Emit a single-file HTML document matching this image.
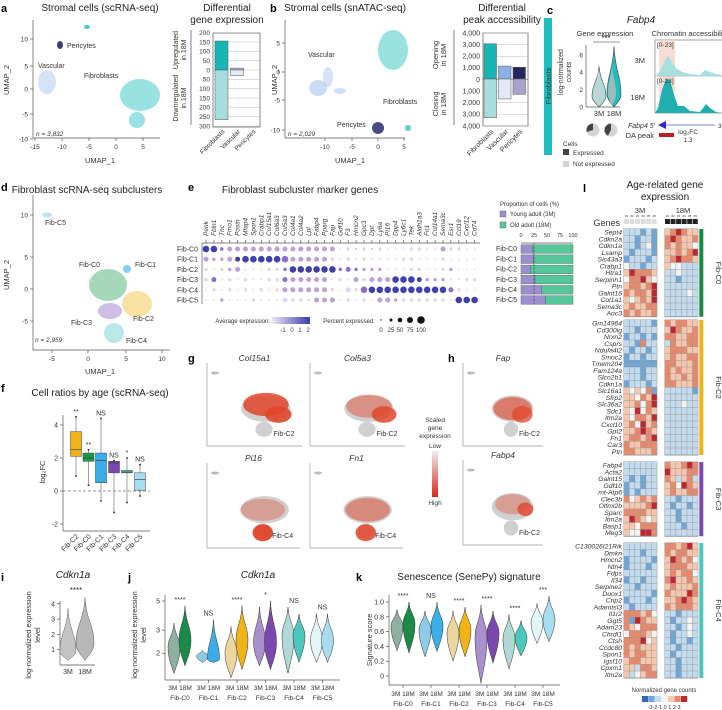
<!DOCTYPE html>
<html><head><meta charset="utf-8"><style>
html,body{margin:0;padding:0;background:#fff}
svg{display:block;font-family:"Liberation Sans",sans-serif}
.t{font-size:10px;fill:#222}
.tk{font-size:6.5px;fill:#333}
.ax{font-size:7.5px;fill:#333}
.pl{font-size:11px;font-weight:bold;fill:#000}
.it{font-style:italic}
</style></head><body>
<svg id="fig" width="722" height="710" viewBox="0 0 722 710">
<text class="pl" x="1" y="12">a</text>
<text class="pl" x="270" y="12">b</text>
<text class="pl" x="547" y="14">c</text>
<text class="pl" x="1" y="191">d</text>
<text class="pl" x="188" y="191">e</text>
<text class="pl" x="1" y="392">f</text>
<text class="pl" x="188" y="362">g</text>
<text class="pl" x="448" y="362">h</text>
<text class="pl" x="1" y="581">i</text>
<text class="pl" x="128" y="581">j</text>
<text class="pl" x="356" y="581">k</text>
<text class="pl" x="583" y="192">l</text>

<text class="t" x="100" y="11" text-anchor="middle">Stromal cells (scRNA-seq)</text>
<text class="t" x="227" y="11" text-anchor="middle">Differential</text>
<text class="t" x="227" y="23" text-anchor="middle">gene expression</text>
<text class="t" x="345" y="11" text-anchor="middle">Stromal cells (snATAC-seq)</text>
<text class="t" x="502" y="11" text-anchor="middle">Differential</text>
<text class="t" x="502" y="23" text-anchor="middle">peak accessibility</text>
<text class="t it" x="641" y="23" text-anchor="middle">Fabp4</text>
<text class="tk" x="605" y="36" text-anchor="middle" style="font-size:7.5px">Gene expression</text>
<text class="tk" x="690" y="36" text-anchor="middle" style="font-size:7.5px">Chromatin accessibility</text>
<text class="t" x="87" y="193" text-anchor="middle">Fibroblast scRNA-seq subclusters</text>
<text class="t" x="300" y="193" text-anchor="middle">Fibroblast subcluster marker genes</text>
<text class="t" x="100" y="396" text-anchor="middle">Cell ratios by age (scRNA-seq)</text>
<text class="t it" x="73" y="578" text-anchor="middle">Cdkn1a</text>
<text class="t it" x="258" y="578" text-anchor="middle">Cdkn1a</text>
<text class="t" x="469" y="580" text-anchor="middle">Senescence (SenePy) signature</text>
<text class="t" x="665" y="188" text-anchor="middle">Age-related gene</text>
<text class="t" x="665" y="200" text-anchor="middle">expression</text>

<g id="g"></g>
</svg>
<script>
const NS='http://www.w3.org/2000/svg';
const G=document.getElementById('g');
function mk(tag,at,p){const e=document.createElementNS(NS,tag);for(const k in at)e.setAttribute(k,at[k]);(p||G).appendChild(e);return e;}
function tx(x,y,s,cls,extra){const e=mk('text',Object.assign({x:x,y:y,class:cls||'tk'},extra||{}));e.textContent=s;return e;}
function ln(x1,y1,x2,y2,c,w,d){return mk('line',{x1,y1,x2,y2,stroke:c||'#555','stroke-width':w||0.7,'stroke-dasharray':d||''});}

/* ---------- data ---------- */
const barACats=['Fibroblasts','Vascular','Pericytes'];
const barAUp=[155,10,0];
const barADown=[265,30,0];
const barATicks=[200,150,100,50,0,50,100,150,200,250,300];
const barBCats=['Fibroblasts','Vascular','Pericytes'];
const barBUp=[3000,1100,1000];
const barBDown=[3300,1700,1300];
const barBTicks=['4,000','3,000','2,000','1,000','0','1,000','2,000','3,000','4,000'];
const boxCats=['Fib-C2','Fib-C0','Fib-C1','Fib-C3','Fib-C4','Fib-C5'];
const boxLo=[0.9,0.35,-0.6,-1.3,-0.7,-0.3];
const boxQ1=[2.1,1.8,0.5,1.1,1.1,0.05];
const boxMed=[2.5,2.0,1.85,1.7,1.15,0.7];
const boxQ3=[3.6,2.3,2.3,1.8,1.25,1.1];
const boxHi=[4.5,2.5,4.4,1.85,2.0,1.6];
const boxSig=['**','**','NS','NS','*','NS'];
const fibCats=['Fib-C0','Fib-C1','Fib-C2','Fib-C3','Fib-C4','Fib-C5'];
const jMin3=[1.4,1.7,1.3,1.6,1.4,1.7], jPeak3=[2.2,1.9,2.0,2.4,2.7,2.5], jMax3=[3.4,2.1,3.2,4.5,4.5,4.0];
const jMin18=[1.6,1.7,1.5,1.5,1.7,1.7], jPeak18=[2.5,1.8,2.5,2.4,2.7,2.5], jMax18=[4.6,3.6,4.6,5.0,4.0,4.0];
const jSig=['****','NS','****','*','NS','NS'];
const kMin3=[0.34,0.26,0.2,-0.1,0.09,0.44], kPeak3=[0.67,0.62,0.57,0.52,0.5,0.72], kMax3=[0.9,0.88,0.88,0.96,0.83,0.98];
const kMin18=[0.31,0.33,0.26,0.17,0.27,0.46], kPeak18=[0.70,0.67,0.62,0.58,0.52,0.76], kMax18=[1.0,1.0,0.93,0.88,0.75,1.08];
const kSig=['****','NS','****','****','****','***'];
const propYoung=[23,24,18,27,40,47];
const dotGenes=['Penk','Fbln1','Tnc','Fmo1','Postn','Mfap4','Spon1','Crabp1','Col15a1','Col6a3','Col5a3','Col4a1','Col4a2','Lpl','Fabp4','Pparg','Fap','Gdf10','F3','Hmcn2','Gpc3','Dpt','Ly6a','Pi16','Dpp4','Ly6c1','Tek','Aldh1a3','Fn1','Col14a1','Sema3c','Esr1','Ccl19','Cxcl12','Cd74'];
const dotSize=['44233333333333333121212111221132211','32233444444333332121211112211121111','21223111222444444232222111221122111','23121211223333331213233344432221122','12121212123333332132444444444443211','11211121113221333121213322222221444'];
const dotCol =['44322222222222222112121111111121111','22224444443222221111111111111111111','11122111113444444333222111111112111','13111111113222221112122244442221111','11111111112222221111344444444443111','11211111111112222111112221111111444'];
const hmGroups=['Fib-C0','Fib-C2','Fib-C3','Fib-C4'];
const hmGroupColors=['#178a44','#f0b419','#7b48b0','#4cc7bd'];
const hmGenes=[
['Sept4','Cdkn2a','Cdkn1a','Lsamp','Slc43a3','Crabp1','Htra1','Serpinh1','Ptn','Galnt16','Col1a1','Sema3c','Aoc3'],
['Gm14964','Cd300lg','Nrxn2','Csprs','Ndufa4l2','Smoc2','Tmem204','Fam124a','Slco2b1','Cdkn1a','Slc16a1','Sfrp2','Slc36a2','Sdc1','Itm2a','Cxcl10','Gpt2','Fn1','Car3','Ptn'],
['Fabp4','Acta2','Galnt15','Gdf10','mt-Atp6','Clec3b','Olfml2b','Sparc','Itm2a','Basp1','Meg3'],
['C130026I21Rik','Dmkn','Hmcn2','Ntn4','Fdps','Il34','Serpine2','Duox1','Crip2','Adamtsl3','Il1r2','Ggt5','Adam23','Chrdl1','Ctsh','Ccdc80','Spon1','Igsf10','Cpxm1','Itm2a']];
const hmVals=[
['cccbcbefgfee','ccbccbfgfeef','ccbcdbfefeed','cbcccbeefefg','bcccbcefgffe','dccbcceddccc','egfffeccdccc','dffgedccbccc','effefgcccccc','feffegccccdc','edefegcccccc','efeeffcccccc','fefeefcccccc'],
['cccccbfeffee','ccbcccegfeef','bccbcbffeeff','ccbfcccfeeff','cbccbcefffee','bccbccefeeff','bbbbbbffeeef','cccbccfefeef','cccbccfeefef','bcccbcffeeef','ededfbcccccb','eedfegcccccc','eefdfgcccdcc','edgdfecccccc','edffegcccccc','efdgefcccccc','eefgfecccccc','effefgcccccc','feefffcccccc','ffeeefcccccc'],
['ccccccfeefgf','ccccccgeeeff','cbcbccfecefc','bccbccefdgfe','bcbcccefeeff','fdefefccbccc','eeeefgcbccbc','ffffeeccbccc','egfedeccbccc','eedfffcccbcc','eddggfcccccc'],
['ccccccffefge','cccbccfeffee','bccccbegfefd','bcccbcefffee','ccccccefeffd','bccbccfgeefe','ccbcccefeeef','cccccbfeeegf','bcccbceefgfe','cbccccfefffe','fffefdccbccc','fbgfeecbccdc','fedfffccbcdc','dfffedcbccdc','fffgdecbccbc','fefeeeccbccc','feffeecbcccc','effeeeccbccc','eecffeccbccc','ecdeffccbccc']];

function cloud(cx,cy,rx,ry,col,op,name){
  const e=mk('ellipse',{cx,cy,rx,ry,fill:col,'fill-opacity':op});
  
  
  return e;
}
function violinPath(cx,yTop,yPeak,yBot,w){
  const a=yPeak-yTop,b=yBot-yPeak;
  return `M${cx},${yTop} C${cx+w*0.15},${yTop+a*0.5} ${cx+w},${yPeak-a*0.4} ${cx+w},${yPeak} C${cx+w},${yPeak+b*0.45} ${cx+w*0.2},${yBot-b*0.2} ${cx},${yBot} C${cx-w*0.2},${yBot-b*0.2} ${cx-w},${yPeak+b*0.45} ${cx-w},${yPeak} C${cx-w},${yPeak-a*0.4} ${cx-w*0.15},${yTop+a*0.5} ${cx},${yTop}Z`;
}

/* panel a UMAP */
ln(33,20,33,138);ln(33,138,160,138);
[[-15,35],[-10,62],[-5,89],[0,116],[5,143]].forEach(t=>{ln(t[1],138,t[1],141);tx(t[1],149,t[0],'tk',{'text-anchor':'middle'});});
[[10,39],[5,66],[0,89],[-5,114],[-10,139]].forEach(t=>{ln(30,t[1],33,t[1]);tx(28,t[1]+2.5,t[0],'tk',{'text-anchor':'end'});});
tx(100,163,'UMAP_1','ax',{'text-anchor':'middle'});
tx(9,80,'UMAP_2','ax',{'text-anchor':'middle',transform:'rotate(-90 9 80)'});
cloud(140,95,20,16,'#1fbcbc',0.45,'fibroblast-cluster');
cloud(137,120,8,8,'#1fbcbc',0.45,'fibroblast-cluster-lower');
cloud(87,27,3,2,'#1fbcbc',0.8,'small-cluster');
cloud(60,45,3,4,'#2b2a6e',0.9,'pericyte-cluster');
cloud(47,82,9,12,'#8ab0e6',0.35,'vascular-cluster');
tx(67,48,'Pericytes','tk',{style:'font-size:7px'});
tx(38,68,'Vascular','tk',{style:'font-size:7px'});
tx(84,78,'Fibroblasts','tk',{style:'font-size:7px'});
tx(36,136,'n = 3,832','tk',{style:'font-style:italic'});

/* bar a */
(function(){
  const y0=70,k=0.187,x0=213,x1=260;
  const yU=v=>y0-v*k, yD=v=>y0+v*k;
  mk('rect',{x:x0,y:33,width:x1-x0,height:94,fill:'none',stroke:'#555','stroke-width':0.7});
  barATicks.forEach((t,i)=>{const y=i<=4?yU(t):yD(t);ln(x0,y,x1,y,'#bbb',0.5);tx(x0-3,y+2.3,t,'tk',{'text-anchor':'end'});});
  const cols=[['#19b5b5','#a9dcdc'],['#a8bfd8','#e6ecf4'],['#888','#ccc']];
  barACats.forEach((c,i)=>{
    const bx=x0+2+i*15.5;
    const u=mk('rect',{x:bx,y:yU(barAUp[i]),width:13,height:barAUp[i]*k,fill:cols[i][0],stroke:'#555','stroke-width':0.5});
    
    
    const d=mk('rect',{x:bx,y:y0,width:13,height:barADown[i]*k,fill:cols[i][1],stroke:'#555','stroke-width':0.5});
    
    
    tx(bx+10,132,c,'tk',{'text-anchor':'end',transform:`rotate(-45 ${bx+10} 132)`});
  });
  ln(191,30,191,125,'#3a4a6a',0.7);
  tx(178,50,'Upregulated','tk',{'text-anchor':'middle',transform:'rotate(-90 178 50)',style:'font-size:7px'});
  tx(186,50,'in 18M','tk',{'text-anchor':'middle',transform:'rotate(-90 186 50)',style:'font-size:7px'});
  tx(178,98,'Downregulated','tk',{'text-anchor':'middle',transform:'rotate(-90 178 98)',style:'font-size:7px'});
  tx(186,98,'in 18M','tk',{'text-anchor':'middle',transform:'rotate(-90 186 98)',style:'font-size:7px'});
})();

/* panel b UMAP */
ln(285,20,285,138);ln(285,138,405,138);
[[-10,325],[-5,352],[0,378],[5,404]].forEach(t=>{ln(t[1],138,t[1],141);tx(t[1],149,t[0],'tk',{'text-anchor':'middle'});});
[[5,43],[0,72],[-5,100],[-10,130]].forEach(t=>{ln(282,t[1],285,t[1]);tx(280,t[1]+2.5,t[0],'tk',{'text-anchor':'end'});});
tx(350,163,'UMAP_1','ax',{'text-anchor':'middle'});
tx(277,80,'UMAP_2','ax',{'text-anchor':'middle',transform:'rotate(-90 277 80)'});
cloud(393,50,15,20,'#1fbcbc',0.45,'atac-fibroblast-cluster');
cloud(408,128,3,3,'#1fbcbc',0.7,'atac-small-cluster');
cloud(318,88,9,8,'#8ab0e6',0.45,'atac-vascular-cluster');
cloud(328,77,5,10,'#8ab0e6',0.35,'atac-vascular-arm');
cloud(340,91,6,3,'#8ab0e6',0.4,'atac-vascular-tail');
cloud(378,128,6,6,'#2b2a6e',0.85,'atac-pericyte-cluster');
tx(308,57,'Vascular','tk',{style:'font-size:7px'});
tx(383,104,'Fibroblasts','tk',{style:'font-size:7px'});
tx(337,127,'Pericytes','tk',{style:'font-size:7px'});
tx(288,136,'n = 2,029','tk',{style:'font-style:italic'});

/* bar b */
(function(){
  const y0=79,k=0.01175,x0=483,x1=528;
  mk('rect',{x:x0,y:33,width:x1-x0,height:93,fill:'none',stroke:'#555','stroke-width':0.7});
  barBTicks.forEach((t,i)=>{const y=33+i*(93/8);ln(x0,y,x1,y,i==4?'#555':'#bbb',0.5);tx(x0-3,y+2.3,t,'tk',{'text-anchor':'end',style:'font-size:7px'});});
  const cols=[['#19b5b5','#a9dcdc'],['#8ab0e6','#e4e9f3'],['#24265f','#a8a4cc']];
  barBCats.forEach((c,i)=>{
    const bx=x0+1+i*14.5;
    const u=mk('rect',{x:bx,y:y0-barBUp[i]*k,width:12.5,height:barBUp[i]*k,fill:cols[i][0],stroke:'#555','stroke-width':0.5});
    
    
    const d=mk('rect',{x:bx,y:y0,width:12.5,height:barBDown[i]*k,fill:cols[i][1],stroke:'#555','stroke-width':0.5});
    
    
    tx(bx+10,132,c,'tk',{'text-anchor':'end',transform:`rotate(-45 ${bx+10} 132)`,style:'font-size:7px'});
  });
  ln(454,30,454,125,'#3a4a6a',0.7);
  tx(438,55,'Opening','ax',{'text-anchor':'middle',transform:'rotate(-90 438 55)'});
  tx(446,55,'in 18M','ax',{'text-anchor':'middle',transform:'rotate(-90 446 55)'});
  tx(438,104,'Closing','ax',{'text-anchor':'middle',transform:'rotate(-90 438 104)'});
  tx(446,104,'in 18M','ax',{'text-anchor':'middle',transform:'rotate(-90 446 104)'});
})();

/* panel c */
(function(){
  const b=mk('rect',{x:544,y:18,width:8,height:137,fill:'#20bdbd'});
  
  tx(551,86,'Fibroblasts','ax',{'text-anchor':'middle',transform:'rotate(-90 551 86)',fill:'#0f6f6f'});
  const y=v=>107-v*8.7;
  ln(586,45,586,107);ln(586,107,620,107);
  [0,2,4,6].forEach(v=>{tx(583,y(v)+2.5,v,'tk',{'text-anchor':'end'});});
  tx(563,72,'log-normalized','tk',{'text-anchor':'middle',transform:'rotate(-90 563 72)',style:'font-size:7px'});
  tx(571,72,'counts','tk',{'text-anchor':'middle',transform:'rotate(-90 571 72)',style:'font-size:7px'});
  const v1=mk('path',{d:violinPath(599,y(4.7),y(1.2),y(0),7),fill:'#a8dede',stroke:'#444','stroke-width':0.6});
  
  mk('path',{d:violinPath(598,y(4.5),y(1.3),y(0.1),4),fill:'#cfcfcf','fill-opacity':0.7});
  const v2=mk('path',{d:violinPath(614,y(7),y(1.4),y(0),7),fill:'#20bdbd',stroke:'#444','stroke-width':0.6});
  
  mk('path',{d:violinPath(612,y(5),y(1.6),y(0.1),4),fill:'#bbb','fill-opacity':0.8});
  ln(593,42,620,42,'#333',0.6);tx(606,41,'***','tk',{'text-anchor':'middle',style:'font-size:8px'});
  tx(599,116,'3M','ax',{'text-anchor':'middle'});tx(614,116,'18M','ax',{'text-anchor':'middle'});
  [[591,0.3],[609,0.42]].forEach((p,i)=>{
    mk('circle',{cx:p[0]+2,cy:130,r:6.5,fill:'#d4d4d4'});
    const a=2*Math.PI*p[1];
    const pie=mk('path',{d:`M${p[0]+2},130 L${p[0]+2},123.5 A6.5,6.5 0 0 0 ${p[0]+2-6.5*Math.sin(a)},${130-6.5*Math.cos(a)} Z`,fill:'#444'});
    
  });
  tx(563,146,'Cells','tk');
  mk('rect',{x:563,y:149,width:6,height:6,fill:'#444'});tx(573,155,'Expressed','tk');
  mk('rect',{x:563,y:161,width:6,height:6,fill:'#d4d4d4'});tx(573,166,'Not expressed','tk');
  mk('rect',{x:655,y:40,width:70,height:73,fill:'none',stroke:'#666','stroke-width':0.6});
  mk('rect',{x:659,y:40,width:16,height:73,fill:'#f2d5cc','fill-opacity':0.8});
  ln(655,76,722,76,'#888',0.5);
  mk('path',{d:'M655,76 L660,72 L664,62 L668,56 L672,62 L676,68 L682,72 L690,74 L700,75 L705,70 L710,72 L716,74 L722,75 L722,76Z',fill:'#a7dede'});
  mk('path',{d:'M655,113 L658,108 L662,90 L666,79 L670,80 L674,95 L678,106 L684,106 L690,111 L700,112 L706,104 L710,108 L716,112 L722,113Z',fill:'#21aeae'});
  tx(657,47,'[0-23]','tk');tx(657,83,'[0-23]','tk');
  tx(645,63,'3M','ax',{'text-anchor':'end'});tx(645,100,'18M','ax',{'text-anchor':'end'});
  tx(655,128,'Fabp4 5′','tk',{'text-anchor':'end',fill:'#4a4ad0',style:'font-style:italic;font-size:7px'});
  mk('path',{d:'M658,125 L666,121 L666,129Z',fill:'#2a2acc'});ln(666,125,715,125,'#5858d0',0.7);
  tx(718,128,'3′','tk',{fill:'#4a4ad0'});
  tx(654,138,'DA peak','ax',{'text-anchor':'end',fill:'#d03030'});
  mk('rect',{x:659,y:133,width:15,height:4,fill:'#c02020'});
  tx(688,134,'log₂FC','tk',{'text-anchor':'middle',fill:'#e04040'});tx(688,142,'1.3','tk',{'text-anchor':'middle',fill:'#e04040'});
})();

/* panel d */
ln(33,195,33,350);ln(33,350,170,350);
[[-5,52],[0,88],[5,126],[10,162]].forEach(t=>{ln(t[1],350,t[1],353);tx(t[1],361,t[0],'tk',{'text-anchor':'middle'});});
[[10,215],[5,257],[0,289],[-5,321]].forEach(t=>{ln(30,t[1],33,t[1]);tx(28,t[1]+2.5,t[0],'tk',{'text-anchor':'end'});});
tx(100,374,'UMAP_1','ax',{'text-anchor':'middle'});
tx(9,275,'UMAP_2','ax',{'text-anchor':'middle',transform:'rotate(-90 9 275)'});
cloud(108,285,19,16,'#1f9a50',0.4,'fib-c0-cluster');
cloud(127,269,4,4,'#3aaee8',0.6,'fib-c1-cluster');
cloud(137,304,15,13,'#f0b419',0.4,'fib-c2-cluster');
cloud(110,311,12,8,'#8a5cc0',0.4,'fib-c3-cluster');
cloud(114,333,10,10,'#4ec9c0',0.4,'fib-c4-cluster');
cloud(47,215,5,2.5,'#8fd0e6',0.6,'fib-c5-cluster');
[['Fib-C0',79,267],['Fib-C1',135,267],['Fib-C2',133,321],['Fib-C3',71,325],['Fib-C4',126,343],['Fib-C5',45,225]].forEach(l=>tx(l[1],l[2],l[0],'tk',{style:'font-size:7px'}));
tx(35,342,'n = 2,959','tk',{style:'font-style:italic'});

/* panel e */
(function(){
  const x0=206,dx=7.9,y0=249,dy=10.2;
  const colors=['#fff','#e0d6ee','#b9a3da','#8a6fcc','#3f3fae'];
  const radii=[0,0.9,1.7,2.5,3.3];
  ln(x0-4,243,x0-4,304);ln(x0-4,243,480,243);
  dotGenes.forEach((g,j)=>{const x=x0+j*dx;tx(x+2,236,g,'tk',{transform:`rotate(-90 ${x+2} 236)`,style:'font-style:italic;font-size:6.5px'});ln(x,243,x,240);});
  fibCats.forEach((c,i)=>{
    const y=y0+i*dy;
    tx(x0-8,y+2.5,c,'tk',{'text-anchor':'end',style:'font-size:7px'});
    for(let j=0;j<dotGenes.length;j++){
      const s=+dotSize[i][j],cc=+dotCol[i][j];
      const d=mk('circle',{cx:x0+j*dx,cy:y,r:radii[s],fill:colors[cc]});
      
      
    }
  });
  tx(270,323,'Average expression:','tk',{'text-anchor':'end',style:'font-size:6px'});
  const lg=mk('linearGradient',{id:'pg'});mk('stop',{offset:0,'stop-color':'#ebe6f4'},lg);mk('stop',{offset:1,'stop-color':'#3b3ba8'},lg);
  mk('rect',{x:272,y:317,width:38,height:7,fill:'url(#pg)'});
  [['-1',283],['0',292],['1',300],['2',308]].forEach(t=>tx(t[1],332,t[0],'tk',{'text-anchor':'middle',style:'font-size:6px'}));
  tx(375,323,'Percent expressed:','tk',{'text-anchor':'end',style:'font-size:6px'});
  [[0.7,381],[1.5,391],[2.3,400],[3,410],[3.8,421]].forEach(p=>mk('circle',{cx:p[1],cy:320,r:p[0],fill:'#111'}));
  [['0',381],['25',391],['50',400],['75',410],['100',421]].forEach(t=>tx(t[1],332,t[0],'tk',{'text-anchor':'middle',style:'font-size:6px'}));
  tx(500,206,'Proportion of cells (%)','tk',{style:'font-size:6px'});
  mk('rect',{x:500,y:211,width:6,height:6,fill:'#9c8fd0',stroke:'#555','stroke-width':0.4});tx(510,216,'Young adult (3M)','tk',{style:'font-size:6px'});
  mk('rect',{x:500,y:222,width:6,height:6,fill:'#55c79a',stroke:'#555','stroke-width':0.4});tx(510,227,'Old adult (18M)','tk',{style:'font-size:6px'});
  const px0=521,pw=52;
  [0,25,50,75,100].forEach((t,i)=>tx(px0+i*pw/4,237,t,'tk',{'text-anchor':'middle',style:'font-size:5.5px'}));
  ln(px0,243,px0+pw,243);
  fibCats.forEach((c,i)=>{
    const y=y0+i*dy-4.3;
    tx(px0-4,y+6.5,c,'tk',{'text-anchor':'end',style:'font-size:7px'});
    const yb=mk('rect',{x:px0,y:y,width:pw*propYoung[i]/100,height:8.6,fill:'#9c8fd0',stroke:'#555','stroke-width':0.4});
    
    const ob=mk('rect',{x:px0+pw*propYoung[i]/100,y:y,width:pw*(100-propYoung[i])/100,height:8.6,fill:'#55c79a',stroke:'#555','stroke-width':0.4});
    
  });
  ln(px0+pw*0.25,243,px0+pw*0.25,305,'#333',0.6,'2,1.5');
})();

/* g/h */
function feat(x,y,w,h,title,label,redAt,name){
  ln(x,y,x,y+h,'#999',0.7);ln(x,y+h,x+w,y+h,'#999',0.7);
  tx(x+w/2,y-2,title,'ax',{'text-anchor':'middle',style:'font-style:italic;font-size:8.5px'});
  mk('ellipse',{cx:x+w*0.62,cy:y+h*0.55,rx:w*0.26,ry:h*0.16,fill:'#d0d0d0'});
  mk('ellipse',{cx:x+w*0.6,cy:y+h*0.8,rx:w*0.09,ry:h*0.09,fill:'#d0d0d0'});
  mk('ellipse',{cx:x+8,cy:y+10,rx:4,ry:1.5,fill:'#bbb'});
  redAt.forEach(r=>{const e=mk('ellipse',{cx:x+w*r[0],cy:y+h*r[1],rx:w*r[2],ry:h*r[3],fill:'#e0452a','fill-opacity':r[4]});
    });
  tx(x+w*0.7,y+h*0.88,label,'tk',{style:'font-size:7px'});
}
feat(207,363,95,83,'Col15a1','Fib-C2',[[0.62,0.5,0.24,0.14,0.85],[0.75,0.62,0.14,0.1,0.9]],'col15a1');
feat(310,363,95,83,'Col5a3','Fib-C2',[[0.62,0.52,0.24,0.14,0.45],[0.78,0.62,0.13,0.1,0.85]],'col5a3');
feat(207,463,93,85,'Pi16','Fib-C4',[[0.6,0.55,0.24,0.13,0.35],[0.6,0.82,0.11,0.1,0.95]],'pi16');
feat(310,463,93,85,'Fn1','Fib-C4',[[0.62,0.55,0.24,0.14,0.5],[0.6,0.82,0.11,0.1,0.85]],'fn1');
feat(463,363,80,83,'Fap','Fib-C2',[[0.62,0.55,0.24,0.14,0.6],[0.74,0.62,0.13,0.1,0.75]],'fap');
feat(463,460,80,85,'Fabp4','Fib-C2',[[0.62,0.52,0.22,0.12,0.35],[0.78,0.58,0.1,0.08,0.8]],'fabp4');
(function(){
  tx(435,422,'Scaled','tk',{'text-anchor':'middle',style:'font-size:6.5px'});
  tx(435,430,'gene','tk',{'text-anchor':'middle',style:'font-size:6.5px'});
  tx(435,438,'expression','tk',{'text-anchor':'middle',style:'font-size:6.5px'});
  tx(435,448,'Low','tk',{'text-anchor':'middle',style:'font-size:6.5px'});
  const lg=mk('linearGradient',{id:'rg',x1:0,y1:0,x2:0,y2:1});mk('stop',{offset:0,'stop-color':'#eee'},lg);mk('stop',{offset:1,'stop-color':'#d8261b'},lg);
  mk('rect',{x:432,y:451,width:6,height:46,fill:'url(#rg)'});
  tx(435,505,'High','tk',{'text-anchor':'middle',style:'font-size:6.5px'});
})();

/* f */
(function(){
  const y=v=>491-16.5*v, xs=[76,88.5,101,114,127,140];
  const cols=['#f0b419','#1a9a4e','#3aaee8','#7b48b0','#4cc7bd','#a8dcef'];
  ln(63,415,63,531);ln(63,531,150,531);
  [4,2,0,-2].forEach(v=>{ln(60,y(v),63,y(v));tx(58,y(v)+2.5,v,'tk',{'text-anchor':'end',style:'font-size:7px'});});
  ln(63,y(0),150,y(0),'#333',0.6,'3,2');
  tx(45,472,'log₂FC','ax',{'text-anchor':'middle',transform:'rotate(-90 45 472)'});
  boxCats.forEach((c,i)=>{
    const x=xs[i];
    ln(x,y(boxHi[i]),x,y(boxLo[i]),'#444',0.5);
    const b=mk('rect',{x:x-5.5,y:y(boxQ3[i]),width:11,height:y(boxQ1[i])-y(boxQ3[i]),fill:cols[i],stroke:'#444','stroke-width':0.5});
    
    ln(x-5.5,y(boxMed[i]),x+5.5,y(boxMed[i]),'#333',0.6);
    mk('circle',{cx:x,cy:y(boxLo[i]),r:0.9,fill:'#222'});mk('circle',{cx:x,cy:y(boxHi[i]),r:0.9,fill:'#222'});
    tx(x,y(boxHi[i])-3,boxSig[i],'tk',{'text-anchor':'middle',style:'font-size:7px'});
    tx(x+3,537,c,'tk',{'text-anchor':'end',transform:`rotate(-45 ${x+3} 537)`,style:'font-size:7px'});
  });
})();

/* i */
(function(){
  const y=v=>665-15.3*v;
  ln(60,601,60,665);ln(60,665,95,665);
  [4,3,2,1].forEach(v=>{ln(57,y(v),60,y(v));tx(55,y(v)+2.5,v,'tk',{'text-anchor':'end',style:'font-size:7px'});});
  tx(31,635,'log-normalized expression','ax',{'text-anchor':'middle',transform:'rotate(-90 31 635)'});
  tx(40,635,'level','ax',{'text-anchor':'middle',transform:'rotate(-90 40 635)'});
  const a=mk('path',{d:violinPath(68,y(3.7),y(0.9),y(0.3),8),fill:'#c4c4c4',stroke:'#666','stroke-width':0.5});
  
  const b=mk('path',{d:violinPath(85,y(4.4),y(1.4),y(0.3),9),fill:'#b8b8b8',stroke:'#555','stroke-width':0.5});
  
  tx(76,593,'****','tk',{'text-anchor':'middle',style:'font-size:8px'});
  tx(68,674,'3M','tk',{'text-anchor':'middle',style:'font-size:7px'});tx(85,674,'18M','tk',{'text-anchor':'middle',style:'font-size:7px'});
})();

const dark=['#1a8a48','#3aaee8','#f0b419','#7b48b0','#4cc7bd','#a8dcef'];
const light=['#8fb0a0','#8fcbe6','#ecd6a0','#a98fcc','#b0d8d4','#e4f5f8'];
(function(){
  const y=v=>601+57*Math.log(5/v);
  const cx=[180,208.5,237,265.5,294,322.5];
  ln(165,595,165,680);ln(165,680,340,680);
  [5,3,2].forEach(v=>{ln(162,y(v),165,y(v));tx(160,y(v)+2.5,v,'tk',{'text-anchor':'end',style:'font-size:7px'});});
  tx(137,635,'log-normalized expression','ax',{'text-anchor':'middle',transform:'rotate(-90 137 635)'});
  tx(146,635,'level','ax',{'text-anchor':'middle',transform:'rotate(-90 146 635)'});
  fibCats.forEach((c,i)=>{
    const v1=mk('path',{d:violinPath(cx[i]-6,y(jMax3[i]),y(jPeak3[i]),y(jMin3[i]),6),fill:light[i],stroke:'#333','stroke-width':0.5});
    
    const v2=mk('path',{d:violinPath(cx[i]+5,y(jMax18[i]),y(jPeak18[i]),y(jMin18[i]),6),fill:dark[i],stroke:'#333','stroke-width':0.5});
    
    tx(cx[i],Math.min(y(jMax3[i]),y(jMax18[i]))-4,jSig[i],'tk',{'text-anchor':'middle',style:'font-size:7px'});
    ln(cx[i],680,cx[i],683);
    tx(cx[i],690,'3M 18M','tk',{'text-anchor':'middle',style:'font-size:6.5px'});
    tx(cx[i],700,c,'tk',{'text-anchor':'middle',style:'font-size:6.5px'});
  });
})();
(function(){
  const y=v=>676-74*v;
  const cx=[403,431,459,487,515,543];
  ln(389,595,389,685);ln(389,685,560,685);
  [1.0,0.8,0.6,0.4,0.2,0].forEach(v=>{ln(386,y(v),389,y(v));tx(384,y(v)+2.5,v==0?'0':v.toFixed(1),'tk',{'text-anchor':'end',style:'font-size:7px'});});
  tx(372,640,'Signature score','ax',{'text-anchor':'middle',transform:'rotate(-90 372 640)'});
  fibCats.forEach((c,i)=>{
    const v1=mk('path',{d:violinPath(cx[i]-6,y(kMax3[i]),y(kPeak3[i]),y(kMin3[i]),6),fill:light[i],stroke:'#333','stroke-width':0.5});
    
    const v2=mk('path',{d:violinPath(cx[i]+6,y(kMax18[i]),y(kPeak18[i]),y(kMin18[i]),6),fill:dark[i],stroke:'#333','stroke-width':0.5});
    
    tx(cx[i],Math.max(590,Math.min(y(kMax3[i]),y(kMax18[i]))-4),kSig[i],'tk',{'text-anchor':'middle',style:'font-size:7px'});
    ln(cx[i],685,cx[i],688);
    tx(cx[i],696,'3M 18M','tk',{'text-anchor':'middle',style:'font-size:6.5px'});
    tx(cx[i],706,c,'tk',{'text-anchor':'middle',style:'font-size:6.5px'});
  });
})();

/* l heatmap */
(function(){
  const pal={a:'#2e6cb4',b:'#6fa6d6',c:'#c4dcef',d:'#f4f4f4',e:'#f6c6ad',f:'#e8896b',g:'#c0262d'};
  const cw=5.55,ch=6.75,x3=624,x18=665;
  tx(640,213,'3M','ax',{'text-anchor':'middle'});tx(683,213,'18M','ax',{'text-anchor':'middle'});
  tx(620,226,'Genes','ax',{'text-anchor':'end',style:'font-size:9px'});
  for(let j=0;j<6;j++){
    mk('rect',{x:x3+j*cw,y:219,width:cw-0.6,height:5,fill:'#ddd'});
    mk('rect',{x:x18+j*cw,y:219,width:cw-0.6,height:5,fill:'#222'});
    tx(x3+j*cw+2.5,217,'#'+(j+1),'tk',{'text-anchor':'middle',style:'font-size:3px'});
    tx(x18+j*cw+2.5,217,'#'+(j+1),'tk',{'text-anchor':'middle',style:'font-size:3px'});
  }
  const starts=[229,320,462,543];
  hmGroups.forEach((gname,gi)=>{
    const y0=starts[gi],n=hmGenes[gi].length;
    mk('rect',{x:x3-0.5,y:y0-0.5,width:6*cw+0.5,height:n*ch+1,fill:'#999'});
    mk('rect',{x:x18-0.5,y:y0-0.5,width:6*cw+0.5,height:n*ch+1,fill:'#999'});
    hmGenes[gi].forEach((gene,r)=>{
      const y=y0+r*ch;
      tx(x3-2,y+5.5,gene,'tk',{'text-anchor':'end',style:'font-style:italic;font-size:6.8px'});
      const row=hmVals[gi][r];
      for(let j=0;j<12;j++){
        const x=(j<6?x3+j*cw:x18+(j-6)*cw);
        const c=mk('rect',{x:x,y:y,width:cw-0.5,height:ch-0.5,fill:pal[row[j]]});
        
        
      }
    });
    const sb=mk('rect',{x:x18+6*cw+1,y:y0,width:4,height:n*ch,fill:hmGroupColors[gi]});
    
    const cy=y0+n*ch/2;
    tx(716,cy,gname,'ax',{'text-anchor':'middle',transform:`rotate(90 716 ${cy})`});
  });
  tx(664,692,'Normalized gene counts','tk',{'text-anchor':'middle',style:'font-size:6px'});
  ['a','b','c','d','e','f','g'].forEach((k,i)=>{
    mk('rect',{x:642+i*6.5,y:696,width:6.2,height:6,fill:pal[k]});
  });
  tx(664,709,'-3-2-1 0 1  2  3','tk',{'text-anchor':'middle',style:'font-size:5.5px'});
})();
</script>
</body></html>
